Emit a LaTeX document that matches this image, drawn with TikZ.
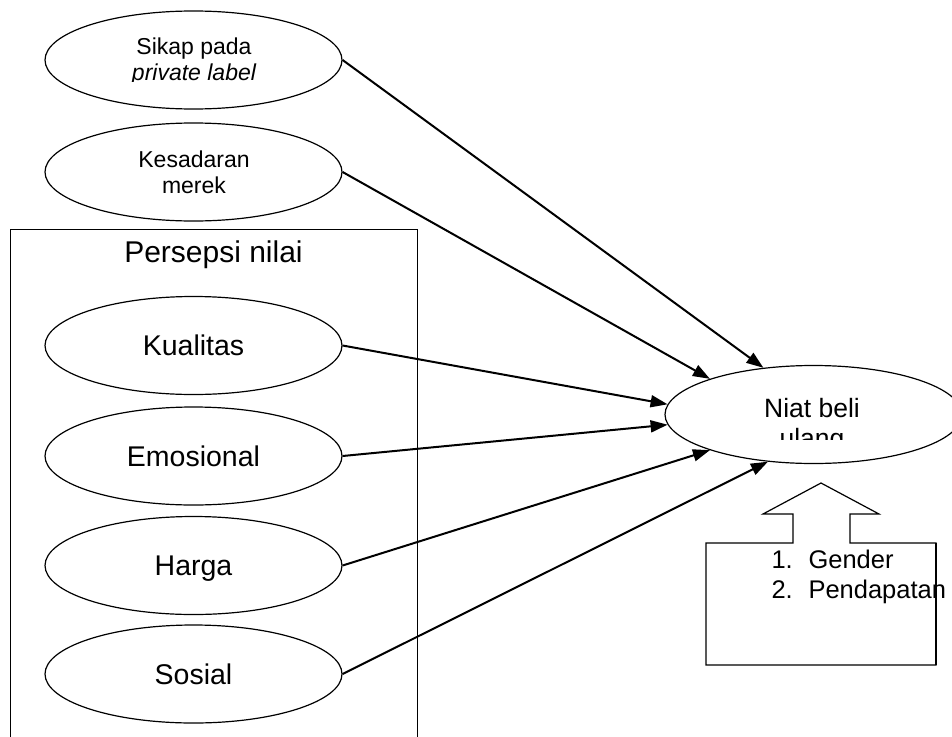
\documentclass[tikz,border=0pt]{standalone}
\usepackage{fontspec}
\setmainfont{Liberation Sans}
\usetikzlibrary{arrows.meta,shapes.geometric}

\begin{document}
\begin{tikzpicture}[x=1pt,y=-1pt,
  oval/.style={ellipse,draw,line width=1.2pt,fill=white,minimum width=297pt,minimum height=98pt,inner sep=0pt},
  big/.style={font=\fontsize{28.5}{33}\selectfont,text height=20.5pt,text depth=0pt},
  mid/.style={font=\fontsize{26.5}{30}\selectfont},
  small/.style={font=\fontsize{23}{26}\selectfont},
  list/.style={font=\fontsize{25.5}{30}\selectfont,anchor=base west},
  arrow/.style={-{Triangle[length=17pt,width=12pt]},line width=2pt}
]
\useasboundingbox (0,0) rectangle (952,736);
\fill[white] (0,0) rectangle (952,736);
% kotak persepsi nilai
\node[draw,line width=1.2pt,minimum width=407pt,minimum height=530pt,anchor=north west,inner sep=0pt] (persepsi) at (10,229) {};
\node[font=\fontsize{30}{36}\selectfont,anchor=base] (judul) at (213.5,262) {Persepsi nilai};
\node[oval,big] (kualitas) at (193.5,345.5) {Kualitas};
\node[oval,big] (emosional) at (193.5,456) {Emosional};
\node[oval,big] (harga) at (193.5,565.5) {Harga};
\node[oval,big] (sosial) at (193.5,674) {Sosial};
% variabel atas
\node[oval] (sikap) at (193.5,60) {};
\node[oval] (kesadaran) at (193.5,172) {};
\begin{scope}
  \clip (60,20) rectangle (330,81);
  \node[small,anchor=base] (sikap1) at (194,54) {Sikap pada};
  \node[small,anchor=base] (sikap2) at (194,80) {\itshape private label};
\end{scope}
\node[small,anchor=base] (sadar1) at (194,167) {Kesadaran};
\node[small,anchor=base] (sadar2) at (194,193) {merek};
% niat beli ulang
\node[oval] (niat) at (813.5,414.5) {};
\begin{scope}
  \clip (680,380) rectangle (940,439);
  \node[mid,anchor=base] (niat1) at (812,417) {Niat beli};
  \node[mid,anchor=base] (niat2) at (812,447) {ulang};
\end{scope}
% moderator
\draw[line width=1.2pt,fill=white] (706,665) -- (706,543) -- (793,543) -- (793,514) -- (763,514)
  -- (821,483) -- (879,514) -- (850,514) -- (850,543) -- (936,543) -- (936,665) -- cycle;
\node[list] (gender) at (768,568) {\makebox[37pt][l]{1.}Gender};
\node[list] (dapat) at (768,598) {\makebox[37pt][l]{2.}Pendapatan};
\draw[line width=1.2pt] (936,543) -- (936,665);
% panah
\draw[arrow] (sikap.east) -- (niat.137.8);
\draw[arrow] (kesadaran.east) -- (niat.161.6);
\draw[arrow] (kualitas.east) -- (niat.176.5);
\draw[arrow] (emosional.east) -- (niat.184.6);
\draw[arrow] (harga.east) -- (niat.199.9);
\draw[arrow] (sosial.east) -- (niat.226.2);
\end{tikzpicture}
\end{document}
